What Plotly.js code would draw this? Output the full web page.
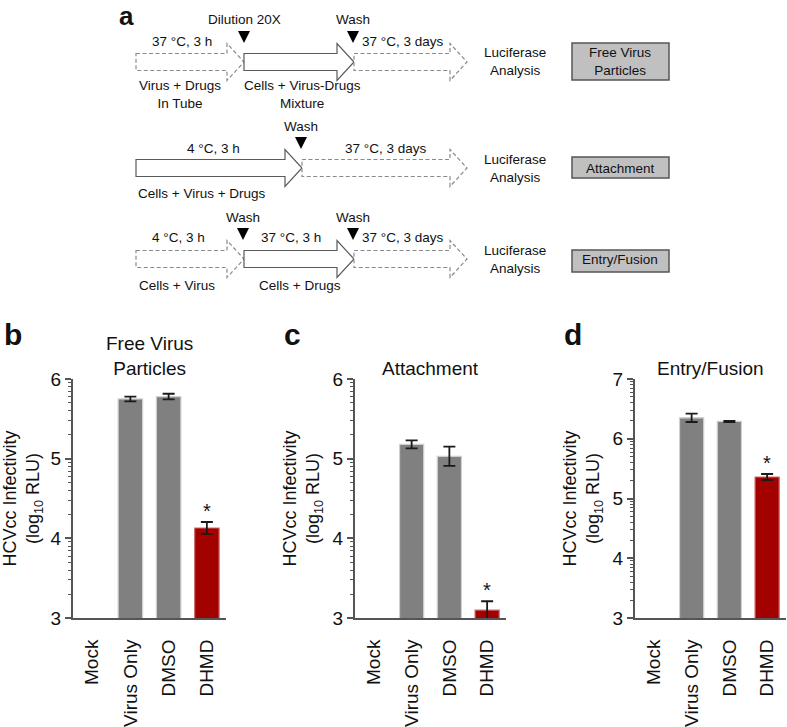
<!DOCTYPE html>
<html><head><meta charset="utf-8">
<script src="https://cdn.plot.ly/plotly-3.0.1.min.js"></script>
<style>html,body{margin:0;padding:0;background:#fff}#chart{width:787px;height:727px}</style>
</head><body><div id="chart"></div>
<script>
// ---------- data ----------
const categories = ["Mock", "Virus Only", "DMSO", "DHMD"];
const freeVirusValues = [null, 5.75, 5.78, 4.13];
const freeVirusErrors = [0, 0.03, 0.035, 0.075];
const attachmentValues = [null, 5.18, 5.03, 3.10];
const attachmentErrors = [0, 0.05, 0.12, 0.11];
const entryValues = [null, 6.35, 6.29, 5.36];
const entryErrors = [0, 0.07, 0.01, 0.05];
const significant = [false, false, false, true];
const panelTitles = ["Free Virus<br>Particles", "Attachment", "Entry/Fusion"];
const panelLetters = ["b", "c", "d"];
const yTickValsBC = [3, 4, 5, 6];
const yTickValsD = [3, 4, 5, 6, 7];
const assayNames = ["Free Virus<br>Particles", "Attachment", "Entry/Fusion"];
const readoutLabel = "Luciferase<br>Analysis";
const markerLabels = [["Dilution 20X", "Wash"], ["Wash"], ["Wash", "Wash"]];
const conditionLabels = [["37 °C, 3 h", "37 °C, 3 days"], ["4 °C, 3 h", "37 °C, 3 days"], ["4 °C, 3 h", "37 °C, 3 h", "37 °C, 3 days"]];
const contentLabels = [["Virus + Drugs<br>In Tube", "Cells + Virus-Drugs<br>Mixture"], ["Cells + Virus + Drugs"], ["Cells + Virus", "Cells + Drugs"]];

// ---------- helpers (pixel -> paper) ----------
const W = 787, H = 727;
const PX = x => x / W;
const PY = y => 1 - y / H;
const FONT = "Liberation Sans, Arial, sans-serif";
const GRAY = "#808080", RED = "#a30000";

const shapes = [];
const annotations = [];

function txt(x, y, text, size, opts) {
  annotations.push(Object.assign({
    xref: "paper", yref: "paper", x: PX(x), y: PY(y), text: text,
    showarrow: false, xanchor: "center", yanchor: "middle",
    font: {family: FONT, size: size, color: "#111"}
  }, opts || {}));
}

function arrow(x0, x2, yc, dashed) {
  const hs = 8.5, hh = 18.5, hl = 17;
  const x1 = x2 - hl;
  const pts = [[x0, yc - hs], [x1, yc - hs], [x1, yc - hh], [x2, yc], [x1, yc + hh], [x1, yc + hs], [x0, yc + hs]];
  const path = "M" + pts.map(p => PX(p[0]) + "," + PY(p[1])).join(" L") + " Z";
  shapes.push({type: "path", xref: "paper", yref: "paper", path: path,
    fillcolor: "#fff",
    line: {color: dashed ? "#8a8a8a" : "#5a5a5a", width: 1.2, dash: dashed ? "4px,2.5px" : "solid"}});
}

function tri(x, yc) {
  const top = yc - 31, bot = yc - 19, hw = 6;
  const path = "M" + PX(x - hw) + "," + PY(top) + " L" + PX(x + hw) + "," + PY(top) + " L" + PX(x) + "," + PY(bot) + " Z";
  shapes.push({type: "path", xref: "paper", yref: "paper", path: path, fillcolor: "#000", line: {width: 0}});
}

function box(x0, x1, y0, y1) {
  shapes.push({type: "rect", xref: "paper", yref: "paper", x0: PX(x0), x1: PX(x1), y0: PY(y1), y1: PY(y0),
    fillcolor: "#c0c0c0", line: {color: "#555", width: 1.5}});
}

// ---------- panel a: schematic ----------
const rowY = [62, 168, 259];
const fs = 13.5;
// row 1
arrow(136, 244, rowY[0], true); arrow(244, 354, rowY[0], false); arrow(354, 467, rowY[0], true);
tri(244, rowY[0]); tri(353, rowY[0]);
txt(245, rowY[0] - 42, markerLabels[0][0], fs); txt(353, rowY[0] - 42, markerLabels[0][1], fs);
txt(182, rowY[0] - 20, conditionLabels[0][0], fs); txt(402, rowY[0] - 20, conditionLabels[0][1], fs);
txt(180, rowY[0] + 33, contentLabels[0][0], fs); txt(302, rowY[0] + 33, contentLabels[0][1], fs);
// row 2
arrow(136, 302, rowY[1], false); arrow(302, 467, rowY[1], true);
tri(301, rowY[1]);
txt(301, rowY[1] - 42, markerLabels[1][0], fs);
txt(213, rowY[1] - 20, conditionLabels[1][0], fs); txt(385, rowY[1] - 20, conditionLabels[1][1], fs);
txt(202, rowY[1] + 25, contentLabels[1][0], fs);
// row 3
arrow(136, 244, rowY[2], true); arrow(244, 354, rowY[2], false); arrow(354, 467, rowY[2], true);
tri(243, rowY[2]); tri(353, rowY[2]);
txt(243, rowY[2] - 42, markerLabels[2][0], fs); txt(353, rowY[2] - 42, markerLabels[2][1], fs);
txt(178, rowY[2] - 21, conditionLabels[2][0], fs); txt(291, rowY[2] - 21, conditionLabels[2][1], fs); txt(402, rowY[2] - 21, conditionLabels[2][2], fs);
txt(177, rowY[2] + 26, contentLabels[2][0], fs); txt(300, rowY[2] + 26, contentLabels[2][1], fs);
// readout + boxes
rowY.forEach((y, i) => txt(515, y, readoutLabel, fs));
box(572, 669, 43, 80); box(572, 669, 157, 178); box(572, 669, 250, 272);
rowY.forEach((y, i) => txt(620, y, assayNames[i], fs));
txt(118, 0, "<b>a</b>", 26, {xanchor: "left", yanchor: "top", borderpad: 0});

// ---------- bar panels ----------
const panels = [
  {vals: freeVirusValues, errs: freeVirusErrors, xd: [73, 226], range: [3, 6], ticks: yTickValsBC, title: panelTitles[0], titleY: 356, letterX: 0},
  {vals: attachmentValues, errs: attachmentErrors, xd: [355, 506], range: [3, 6], ticks: yTickValsBC, title: panelTitles[1], titleY: 368, letterX: 280},
  {vals: entryValues, errs: entryErrors, xd: [635, 786], range: [3, 7], ticks: yTickValsD, title: panelTitles[2], titleY: 368, letterX: 560}
];
const yDom = [PY(618), PY(379)];
const traces = [];
const layout = {
  width: W, height: H, margin: {l: 0, r: 0, t: 0, b: 0},
  paper_bgcolor: "#fff", plot_bgcolor: "rgba(0,0,0,0)",
  showlegend: false, bargap: 0.36,
  font: {family: FONT, color: "#111"},
  shapes: shapes, annotations: annotations
};

function logMinor(lo, hi) {
  const out = [];
  for (let d = lo; d < hi; d++) for (let k = 2; k <= 9; k++) out.push(d + Math.log10(k));
  return out;
}

panels.forEach((p, i) => {
  const n = i === 0 ? "" : String(i + 1);
  const xa = "x" + n, ya = "y" + n;
  traces.push({
    type: "bar", x: categories, y: p.vals, xaxis: xa, yaxis: ya,
    marker: {color: categories.map((c, j) => significant[j] ? RED : GRAY),
             line: {color: categories.map((c, j) => significant[j] ? "#cf6a6a" : "#d0d0d0"), width: 1.2}},
    error_y: {type: "data", array: p.errs, visible: true, color: "#1a1a1a", thickness: 1.8, width: 6},
    hoverinfo: "x+y"
  });
  layout["xaxis" + n] = {
    domain: [PX(p.xd[0]), PX(p.xd[1])], anchor: ya, range: [-0.5, 3.5],
    showline: true, linecolor: "#555", linewidth: 2, ticks: "", showgrid: false, zeroline: false,
    tickangle: -90, tickfont: {size: 19, color: "#111"}, ticklabelstandoff: 12, fixedrange: true
  };
  layout["yaxis" + n] = {
    domain: yDom, anchor: xa, range: p.range,
    showline: true, linecolor: "#555", linewidth: 2, showgrid: false, zeroline: false,
    tickmode: "array", tickvals: p.ticks, ticks: "outside", ticklen: 6, tickwidth: 2, tickcolor: "#555",
    tickfont: {size: 19, color: "#111"},
    minor: {tickmode: "array", tickvals: logMinor(p.range[0], p.range[1]), ticks: "outside", ticklen: 3, tickwidth: 1, tickcolor: "#555"},
    title: {text: "HCVcc Infectivity<br>(log<sub>10</sub> RLU)", font: {size: 18, color: "#111"}, standoff: 8},
    fixedrange: true
  };
  // panel title
  txt((p.xd[0] + p.xd[1]) / 2, p.titleY, p.title, 19);
  // panel letter
  txt(p.letterX + 2, 334, "<b>" + panelLetters[i] + "</b>", 30, {xanchor: "left"});
  // significance stars
  categories.forEach((c, j) => {
    if (significant[j]) annotations.push({
      xref: xa, yref: ya, x: c, y: p.vals[j] + p.errs[j], text: "*", showarrow: false,
      yanchor: "bottom", yshift: -2, font: {family: FONT, size: 20, color: "#111"}
    });
  });
});

Plotly.newPlot("chart", traces, layout, {staticPlot: true, displayModeBar: false});
</script>
</body></html>
